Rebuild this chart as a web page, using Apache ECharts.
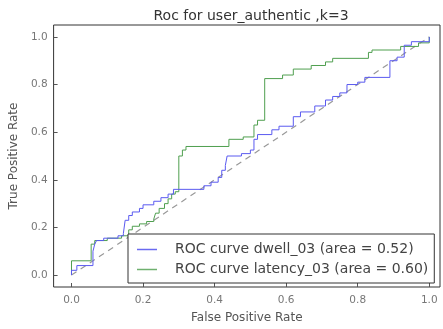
<!DOCTYPE html>
<html><head><meta charset="utf-8">
<script src="https://cdn.jsdelivr.net/npm/echarts@6/dist/echarts.min.js"></script>
<style>html,body{margin:0;padding:0;background:#fff}#c{width:443px;height:329px}</style>
</head><body><div id="c"></div>
<script>
var titleText = "Roc for user_authentic ,k=3";
var xName = "False Positive Rate";
var yName = "True Positive Rate";
var tickValues = [0, 0.2, 0.4, 0.6, 0.8, 1.0];
var dwellName = "ROC curve dwell_03 (area = 0.52)";
var latencyName = "ROC curve latency_03 (area = 0.60)";
var dwellFpr = [0,0,0.015,0.015,0.06,0.06,0.065,0.065,0.07,0.07,0.09,0.09,0.13,0.13,0.145,0.145,0.15,0.15,0.16,0.16,0.17,0.17,0.19,0.19,0.2,0.2,0.23,0.23,0.25,0.25,0.27,0.27,0.285,0.285,0.37,0.37,0.39,0.39,0.41,0.41,0.42,0.42,0.43,0.43,0.435,0.435,0.475,0.475,0.5,0.5,0.51,0.51,0.52,0.52,0.56,0.56,0.58,0.58,0.62,0.62,0.64,0.64,0.68,0.68,0.71,0.71,0.73,0.73,0.75,0.75,0.77,0.77,0.8,0.8,0.82,0.82,0.89,0.89,0.91,0.91,0.93,0.93,0.95,0.95,1,1];
var dwellTpr = [0,0.02,0.02,0.04,0.04,0.1,0.1,0.13,0.13,0.145,0.145,0.155,0.155,0.165,0.165,0.175,0.175,0.23,0.23,0.25,0.25,0.265,0.265,0.28,0.28,0.295,0.295,0.31,0.31,0.325,0.325,0.34,0.34,0.36,0.36,0.375,0.375,0.39,0.39,0.41,0.41,0.44,0.44,0.46,0.46,0.5,0.5,0.51,0.51,0.525,0.525,0.57,0.57,0.59,0.59,0.61,0.61,0.625,0.625,0.665,0.665,0.685,0.685,0.71,0.71,0.735,0.735,0.75,0.75,0.765,0.765,0.8,0.8,0.81,0.81,0.83,0.83,0.9,0.9,0.915,0.915,0.965,0.965,0.98,0.98,1];
var latencyFpr = [0,0,0.055,0.055,0.065,0.065,0.1,0.1,0.14,0.14,0.16,0.16,0.17,0.17,0.19,0.19,0.21,0.21,0.23,0.23,0.235,0.235,0.245,0.245,0.26,0.26,0.27,0.27,0.28,0.28,0.29,0.29,0.3,0.3,0.31,0.31,0.32,0.32,0.44,0.44,0.48,0.48,0.51,0.51,0.52,0.52,0.54,0.54,0.59,0.59,0.62,0.62,0.67,0.67,0.71,0.71,0.73,0.73,0.83,0.83,0.84,0.84,0.92,0.92,0.97,0.97,1,1];
var latencyTpr = [0,0.06,0.06,0.13,0.13,0.145,0.145,0.155,0.155,0.165,0.165,0.19,0.19,0.205,0.205,0.215,0.215,0.225,0.225,0.235,0.235,0.26,0.26,0.28,0.28,0.3,0.3,0.32,0.32,0.34,0.34,0.35,0.35,0.5,0.5,0.525,0.525,0.54,0.54,0.57,0.57,0.58,0.58,0.63,0.63,0.65,0.65,0.825,0.825,0.84,0.84,0.865,0.865,0.88,0.88,0.895,0.895,0.91,0.91,0.935,0.935,0.945,0.945,0.96,0.96,0.975,0.975,1];
var chanceX = [0, 1];
var chanceY = [0, 1];

function pairs(xs, ys){ return xs.map(function(x,i){ return [x, ys[i]]; }); }
var fmt = function(v){ return (Math.round(v*10)/10).toFixed(1); };
var FF = 'DejaVu Sans';
var chart = echarts.init(document.getElementById('c'), null, {renderer:'canvas'});
chart.setOption({
  animation: false,
  backgroundColor: '#fff',
  textStyle: {fontFamily: FF},
  title: {text: titleText, left: 246, textAlign: 'center', top: 4,
    textStyle: {fontSize: 14, fontWeight: 'normal', color: '#333', fontFamily: FF}},
  grid: {left: 45, right: 3, top: 25, bottom: 37, show: true, borderColor: '#333', borderWidth: 1, backgroundColor: '#fff'},
  xAxis: {type: 'value', min: -0.05, max: 1.03,
    name: xName, nameLocation: 'middle', nameGap: 25,
    nameTextStyle: {fontSize: 12, color: '#555', fontFamily: FF},
    axisLine: {show: false, onZero: false},
    splitLine: {show: false},
    axisTick: {show: true, inside: true, length: 4, customValues: tickValues, lineStyle: {color: '#555'}},
    axisLabel: {customValues: tickValues, formatter: fmt, fontSize: 10.5, color: '#777', margin: 8, fontFamily: FF}},
  yAxis: {type: 'value', min: -0.05, max: 1.05,
    name: yName, nameLocation: 'middle', nameGap: 32, nameRotate: 90,
    nameTextStyle: {fontSize: 12, color: '#555', fontFamily: FF},
    axisLine: {show: false, onZero: false},
    splitLine: {show: false},
    axisTick: {show: true, inside: true, length: 4, customValues: tickValues, lineStyle: {color: '#555'}},
    axisLabel: {customValues: tickValues, formatter: fmt, fontSize: 10.5, color: '#777', margin: 6, fontFamily: FF}},
  legend: {data: [dwellName, latencyName], orient: 'vertical', left: 128, top: 234,
    padding: [8, 6, 6, 9], itemGap: 5, itemWidth: 20, itemHeight: 1.5, icon: 'rect',
    borderColor: '#333', borderWidth: 1, backgroundColor: '#fff',
    textStyle: {fontSize: 14, color: '#444', fontFamily: FF, lineHeight: 15, padding: [0, 0, 0, 13]}},
  series: [
    {name: 'chance', type: 'line', data: pairs(chanceX, chanceY), symbol: 'none', z: 1,
      lineStyle: {color: '#999', width: 1.2, type: [6, 5]}},
    {name: dwellName, type: 'line', data: pairs(dwellFpr, dwellTpr), symbol: 'none', z: 3,
      color: '#6a6af0', lineStyle: {color: '#5a5af0', width: 1}},
    {name: latencyName, type: 'line', data: pairs(latencyFpr, latencyTpr), symbol: 'none', z: 2,
      color: '#6fb06f', lineStyle: {color: '#4f9f4f', width: 1}}
  ]
});
</script>
</body></html>
